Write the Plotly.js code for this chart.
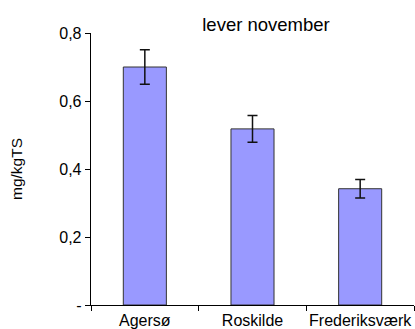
<!DOCTYPE html>
<html>
<head>
<meta charset="utf-8">
<script src="https://cdn.plot.ly/plotly-3.0.1.min.js"></script>
<style>html,body{margin:0;padding:0;background:#fff;}#chart{width:415px;height:329px;}</style>
</head>
<body>
<div id="chart"></div>
<script>
const categories = ["Agersø", "Roskilde", "Frederiksværk"];
const values = [0.700, 0.518, 0.342];
const errors = [0.051, 0.039, 0.027];
const yTickVals = [0, 0.2, 0.4, 0.6, 0.8];
const yTickText = ["-", "0,2", "0,4", "0,6", "0,8"];

const trace = {
  type: "bar",
  x: categories,
  y: values,
  width: 0.4,
  marker: {color: "#9999FF", line: {color: "#333333", width: 1}},
  error_y: {type: "data", array: errors, visible: true, color: "#111111", thickness: 1.5, width: 5},
  hoverinfo: "none"
};

const layout = {
  width: 415, height: 329,
  margin: {l: 91, r: 1, t: 33, b: 24, pad: 0},
  paper_bgcolor: "#ffffff", plot_bgcolor: "#ffffff",
  showlegend: false,
  font: {family: "Liberation Sans, Arial, sans-serif", color: "#000000"},
  title: {text: "lever november", font: {size: 18.5, color: "#000000"}, x: 266/415, xanchor: "center", xref: "container", y: 1 - 31/329, yanchor: "bottom", yref: "container", pad: {t:0,b:0,l:0,r:0}},
  xaxis: {
    type: "category", range: [-0.5, 2.5], tickson: "boundaries",
    ticks: "outside", ticklen: 5, tickcolor: "#000", tickwidth: 1,
    tickangle: 0,
    showline: true, linecolor: "#000", linewidth: 1.3,
    showgrid: false, zeroline: false,
    tickfont: {size: 16, color: "#000"}, fixedrange: true
  },
  yaxis: {
    range: [0, 0.8], tickvals: yTickVals, ticktext: yTickText,
    ticks: "outside", ticklen: 5, tickcolor: "#000", tickwidth: 1,
    showline: true, linecolor: "#000", linewidth: 1.3,
    showgrid: false, zeroline: false,
    tickfont: {size: 16, color: "#000"},
    title: {text: "mg/kgTS", font: {size: 15.5, color: "#000"}, standoff: 32},
    fixedrange: true
  }
};

Plotly.newPlot("chart", [trace], layout, {displayModeBar: false, staticPlot: true});
</script>
</body>
</html>
